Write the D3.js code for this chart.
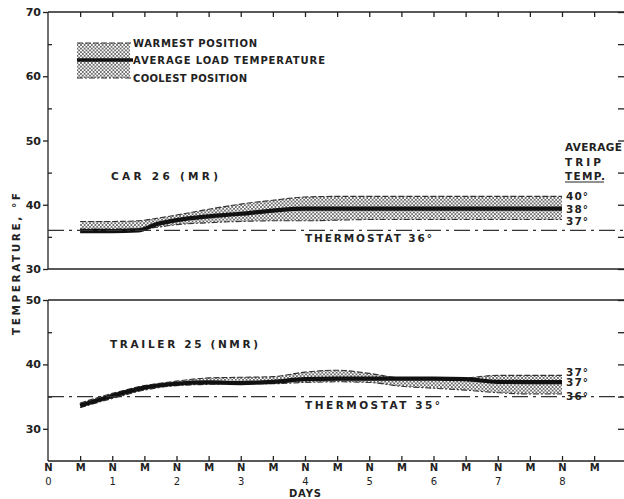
<!DOCTYPE html>
<html><head><meta charset="utf-8">
<script src="https://cdn.jsdelivr.net/npm/d3@7"></script>
<style>body{margin:0;background:#fff}svg{display:block}</style>
</head><body>
<svg id="c" width="624" height="499"></svg>
<script>
// ---- data ----
const carDays   = [0.5, 1.0, 1.4, 1.7, 2.0, 2.5, 3.0, 3.5, 4.0, 4.5, 5.0, 6.0, 7.0, 8.0];
const carWarm   = [37.4,37.4,37.5,37.9,38.4,39.3,40.1,40.7,41.2,41.3,41.3,41.3,41.3,41.3];
const carAvg    = [35.9,35.9,36.0,37.0,37.6,38.2,38.6,39.1,39.4,39.4,39.4,39.4,39.4,39.4];
const carCool   = [36.2,36.2,36.2,36.5,36.9,37.2,37.4,37.5,37.5,37.6,37.7,37.7,37.7,37.7];
const carThermostat = 36;
const carTripLabels = ["40°","38°","37°"];

const trlDays   = [0.5, 1.0, 1.5, 2.0, 2.5, 3.0, 3.5, 4.0, 4.5, 5.0, 5.5, 6.0, 6.5, 7.0, 7.5, 8.0];
const trlWarm   = [34.0,35.5,36.7,37.4,37.9,38.0,38.1,38.8,39.1,38.6,37.9,37.8,37.9,38.3,38.3,38.3];
const trlAvg    = [33.6,35.1,36.4,37.0,37.2,37.1,37.3,37.7,37.8,37.8,37.8,37.8,37.7,37.3,37.25,37.25];
const trlCool   = [33.3,34.7,36.0,36.7,36.9,37.0,37.0,37.2,37.3,37.2,36.6,36.3,36.0,35.6,35.4,35.4];
const trlThermostat = 35;
const trlTripLabels = ["37°","37°","36°"];

const halfDayLabels = ["N","M","N","M","N","M","N","M","N","M","N","M","N","M","N","M","N","M"];
const dayLabels = ["0","1","2","3","4","5","6","7","8"];
const topYTicks = [30,40,50,60,70];
const botYTicks = [30,40,50];

// ---- layout ----
const svg = d3.select("#c");
const ink = "#222";
const FONT = "'DejaVu Sans', sans-serif";
const x = d3.scaleLinear().domain([0, 8.965]).range([48, 624]);
const yTop = d3.scaleLinear().domain([30, 70]).range([269, 12]);
const yBot = d3.scaleLinear().domain([25, 50]).range([461, 300]);

// hatch pattern
const defs = svg.append("defs");
const pat = defs.append("pattern").attr("id","hatch").attr("patternUnits","userSpaceOnUse")
  .attr("width",3.6).attr("height",3.6);
pat.append("path").attr("d","M0,0L3.6,3.6M3.6,0L0,3.6").attr("stroke","#6a6a6a").attr("stroke-width",0.9);

function styleAxis(g){
  g.selectAll("path,line").attr("stroke", ink).attr("stroke-width", 1.3);
  g.selectAll("text").attr("fill", ink).attr("font-family", FONT).attr("font-weight","bold").attr("font-size", 11);
}

const halfDays = halfDayLabels.map((d,i)=>i*0.5);

function panel(y, yTicks, yMinor, topEdge, bottomEdge, hasTopTicks){
  const la = svg.append("g").attr("transform","translate(48,0)")
    .call(d3.axisLeft(y).tickValues(yTicks).tickSize(5).tickSizeOuter(0).tickPadding(2));
  styleAxis(la);
  la.select(".domain").attr("d", `M0,${topEdge}V${bottomEdge}`);
  const lm = svg.append("g").attr("transform","translate(48,0)")
    .call(d3.axisRight(y).tickValues(yMinor).tickSize(4).tickFormat(""));
  lm.select(".domain").remove(); styleAxis(lm);
  const rt = svg.append("g").attr("transform","translate(624,0)")
    .call(d3.axisRight(y).tickValues(yTicks.concat(yMinor)).tickSize(-6).tickFormat(""));
  rt.select(".domain").remove(); styleAxis(rt);
  svg.append("line").attr("x1",48).attr("x2",624).attr("y1",topEdge).attr("y2",topEdge)
    .attr("stroke",ink).attr("stroke-width",1.4);
  if (hasTopTicks){
    const tt = svg.append("g").attr("transform",`translate(0,${topEdge})`)
      .call(d3.axisTop(x).tickValues(halfDays.slice(1)).tickSize(-5).tickFormat(""));
    tt.select(".domain").remove(); styleAxis(tt);
  }
}

panel(yTop, topYTicks, [35,45,55,65], 12, 269, true);
panel(yBot, botYTicks, [35,45], 300, 461, false);

svg.append("line").attr("x1",48).attr("x2",624).attr("y1",269).attr("y2",269).attr("stroke",ink).attr("stroke-width",1.4);

// x axis
const xa = svg.append("g").attr("transform","translate(0,461)")
  .call(d3.axisBottom(x).tickValues(halfDays).tickSize(-5).tickPadding(3).tickFormat((d,i)=>halfDayLabels[i]));
styleAxis(xa);
xa.select(".domain").attr("d","M48,0H624");
xa.selectAll("text").attr("font-size",10);
xa.selectAll(".tick").filter(d=>d===0).select("line").remove();
const xd = svg.append("g").attr("transform","translate(0,474.5)")
  .call(d3.axisBottom(x).tickValues(dayLabels.map((d,i)=>i)).tickSize(0).tickPadding(3).tickFormat((d,i)=>dayLabels[i]));
xd.select(".domain").remove(); styleAxis(xd); xd.selectAll("text").attr("font-size",10).attr("font-weight","normal");

function txt(t, px, py, opts={}){
  const e = svg.append("text").attr("x",px).attr("y",py).text(t)
    .attr("font-family",FONT).attr("font-weight", opts.weight||"bold")
    .attr("font-size", opts.size||10.5).attr("fill",ink)
    .attr("dominant-baseline","central").attr("text-anchor", opts.anchor||"start");
  if (opts.len) e.attr("textLength",opts.len).attr("lengthAdjust","spacing");
  if (opts.rot) e.attr("transform",`rotate(${opts.rot},${px},${py})`);
  return e;
}

txt("DAYS", x(4), 493.5, {size:10, anchor:"middle", len:32});
txt("TEMPERATURE, °F", 16, 264, {size:10.5, anchor:"middle", len:142, rot:-90});

function series(days, warm, avg, cool, y, thermo, thermoLabel, tripLabels, nameLabel, nameX, nameY, nameLen, thermoLen){
  const pts = days.map((d,i)=>({d, w:warm[i], a:avg[i], c:cool[i]}));
  const curve = d3.curveMonotoneX;
  svg.append("path").datum(pts)
    .attr("d", d3.area().x(p=>x(p.d)).y0(p=>y(p.c)).y1(p=>y(p.w)).curve(curve))
    .attr("fill","url(#hatch)");
  svg.append("path").datum(pts)
    .attr("d", d3.line().x(p=>x(p.d)).y(p=>y(p.w)).curve(curve))
    .attr("fill","none").attr("stroke","#333").attr("stroke-width",1.1).attr("stroke-dasharray","6,2");
  svg.append("path").datum(pts)
    .attr("d", d3.line().x(p=>x(p.d)).y(p=>y(p.c)).curve(curve))
    .attr("fill","none").attr("stroke","#333").attr("stroke-width",1.1).attr("stroke-dasharray","6,2,2,2");
  svg.append("path").datum(pts)
    .attr("d", d3.line().x(p=>x(p.d)).y(p=>y(p.a)).curve(curve))
    .attr("fill","none").attr("stroke","#111").attr("stroke-width",4.2).attr("stroke-linecap","butt");
  svg.append("line").attr("x1",48).attr("x2",624).attr("y1",y(thermo)).attr("y2",y(thermo))
    .attr("stroke","#333").attr("stroke-width",1.2).attr("stroke-dasharray","16,5,3,5");
  txt(thermoLabel, 305, y(thermo)+8, {size:10.5, len:thermoLen});
  txt(nameLabel, nameX, nameY, {size:10.5, len:nameLen});
  const last = pts[pts.length-1];
  const ly = [Math.min(y(last.w), y(last.a)-10.5), y(last.a), Math.max(y(last.c)+1.5, y(last.a)+11)];
  tripLabels.forEach((t,i)=>txt(t, 566, ly[i], {size:10.5, len:22}));
}

series(carDays, carWarm, carAvg, carCool, yTop, carThermostat, "THERMOSTAT 36°", carTripLabels,
  "CAR 26 (MR)", 111, 176, 107, 127);
series(trlDays, trlWarm, trlAvg, trlCool, yBot, trlThermostat, "THERMOSTAT 35°", trlTripLabels,
  "TRAILER 25 (NMR)", 110, 344, 148, 135);

txt("AVERAGE", 565, 147, {size:10.5, len:57});
txt("TRIP", 565, 162, {size:10.5, len:36});
txt("TEMP.", 565, 176, {size:10.5, len:40});
svg.append("line").attr("x1",565).attr("x2",604).attr("y1",182).attr("y2",182).attr("stroke",ink).attr("stroke-width",1.2);

// legend
const lg = svg.append("g");
lg.append("rect").attr("x",77).attr("y",43).attr("width",53).attr("height",35).attr("fill","url(#hatch)");
lg.append("line").attr("x1",77).attr("x2",132).attr("y1",43).attr("y2",43).attr("stroke","#333").attr("stroke-width",1.1).attr("stroke-dasharray","6,2");
lg.append("line").attr("x1",77).attr("x2",132).attr("y1",78).attr("y2",78).attr("stroke","#333").attr("stroke-width",1.1).attr("stroke-dasharray","6,2,2,2");
lg.append("line").attr("x1",77).attr("x2",133).attr("y1",60).attr("y2",60).attr("stroke","#111").attr("stroke-width",3.5);
txt("WARMEST POSITION", 133, 43, {size:10, len:124});
txt("AVERAGE LOAD TEMPERATURE", 133, 60, {size:10, len:192});
txt("COOLEST POSITION", 133, 78, {size:10, len:114});
</script>
</body></html>
